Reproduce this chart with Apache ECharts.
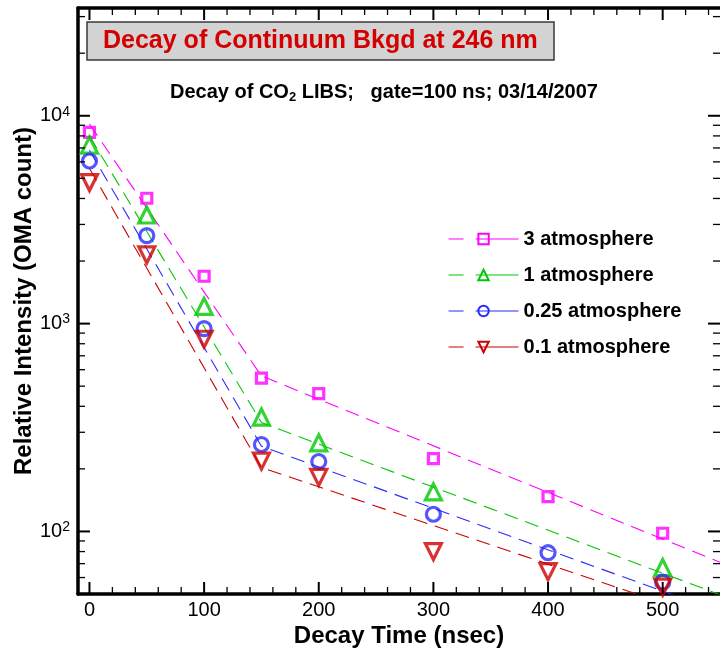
<!DOCTYPE html>
<html>
<head>
<meta charset="utf-8">
<script src="https://cdn.jsdelivr.net/npm/echarts@6/dist/echarts.min.js"></script>
<style>
  html, body { margin: 0; padding: 0; background: #fff; }
  #chart { width: 720px; height: 653px; }
</style>
</head>
<body>
<div id="chart"></div>
<script>
// Measured continuum intensity (OMA counts) versus decay time (ns)
const delayTimes = [0, 50, 100, 150, 200, 300, 400, 500];
const atm3   = [8320, 4010, 1690, 546, 460, 224, 147, 98];
const atm1   = [7230, 3330, 1210, 355, 267, 155, null, 67];
const atm025 = [6060, 2650, 946, 262, 217, 121, 79, 57];
const atm01  = [4770, 2140, 841, 218, 182, 80, 64, 54];

// Two-slope exponential fits (fast decay up to 150 ns, slow decay after)
const fitTimes = [0, 150, 550];
const fit3   = [9120, 560, 71];
const fit1   = [8000, 334, 49.6];
const fit025 = [6830, 257, 41];
const fit01  = [5580, 203, 36.6];

const seriesNames = ['3 atmosphere', '1 atmosphere', '0.25 atmosphere', '0.1 atmosphere'];
const seriesColors = ['#ff00ff', '#00c800', '#2b2bff', '#cc0000'];

// Axis ticks
const xMin = -10, xMax = 550;
const yMin = 50, yMax = 33000;
const xMajorTicks = [0, 100, 200, 300, 400, 500];
const xMinorTicks = [20, 40, 60, 80, 120, 140, 160, 180, 220, 240, 260, 280,
                     320, 340, 360, 380, 420, 440, 460, 480, 520, 540];
const yMajorTicks = [100, 1000, 10000];
const yMinorTicks = [60, 70, 80, 90, 200, 300, 400, 500, 600, 700, 800, 900,
                     2000, 3000, 4000, 5000, 6000, 7000, 8000, 9000, 20000, 30000];

const FONT = "'Liberation Sans', Arial, Helvetica, sans-serif";

const pointSets = [atm3, atm1, atm025, atm01];
const fitSets = [fit3, fit1, fit025, fit01];
const symbols = ['rect', 'triangle', 'circle', 'triangle'];
const symbolSizes = [10, 16, 14, 16];
const symbolRotates = [0, 0, 0, 180];

function pairs(xs, ys) {
  const out = [];
  xs.forEach((x, i) => { if (ys[i] != null) out.push([x, ys[i]]); });
  return out;
}

const series = [];

// Dashed fit lines (these carry the legend entries)
fitSets.forEach((vals, i) => {
  series.push({
    name: seriesNames[i],
    type: 'line',
    data: pairs(fitTimes, vals),
    symbol: symbols[i],
    symbolSize: symbolSizes[i],
    symbolRotate: symbolRotates[i],
    showSymbol: false,
    silent: true,
    clip: true,
    z: 2,
    lineStyle: { color: seriesColors[i], width: 1.1, type: [14, 8] },
    itemStyle: { color: 'rgba(0,0,0,0)', borderColor: seriesColors[i], borderWidth: 2.5 }
  });
});

// Measured points
pointSets.forEach((vals, i) => {
  series.push({
    name: seriesNames[i] + ' data',
    type: 'scatter',
    data: pairs(delayTimes, vals),
    symbol: symbols[i],
    symbolSize: symbolSizes[i],
    symbolRotate: symbolRotates[i],
    silent: true,
    z: 3,
    itemStyle: { color: 'rgba(0,0,0,0)', borderColor: seriesColors[i], borderWidth: 3.2 }
  });
});

// Inward ticks on all four sides of the frame
const xTickData = xMajorTicks.concat(xMinorTicks).map(v => [v, yMin]);
const yTickData = yMajorTicks.concat(yMinorTicks).map(v => [xMin, v]);

series.push({
  type: 'custom',
  name: 'x ticks',
  silent: true,
  z: 5,
  data: xTickData,
  renderItem: function (params, api) {
    const v = api.value(0);
    const major = xMajorTicks.indexOf(v) >= 0;
    const len = major ? 12 : 7;
    const pb = api.coord([v, yMin]);
    const pt = api.coord([v, yMax]);
    const st = { stroke: '#000', lineWidth: major ? 2 : 1.3 };
    return {
      type: 'group',
      children: [
        { type: 'line', shape: { x1: pb[0], y1: pb[1], x2: pb[0], y2: pb[1] - len }, style: st },
        { type: 'line', shape: { x1: pt[0], y1: pt[1], x2: pt[0], y2: pt[1] + len }, style: st }
      ]
    };
  }
});

series.push({
  type: 'custom',
  name: 'y ticks',
  silent: true,
  z: 5,
  data: yTickData,
  renderItem: function (params, api) {
    const v = api.value(1);
    const major = yMajorTicks.indexOf(v) >= 0;
    const len = major ? 12 : 7;
    const pl = api.coord([xMin, v]);
    const pr = api.coord([xMax, v]);
    const st = { stroke: '#000', lineWidth: major ? 2 : 1.3 };
    return {
      type: 'group',
      children: [
        { type: 'line', shape: { x1: pl[0], y1: pl[1], x2: pl[0] + len, y2: pl[1] }, style: st },
        { type: 'line', shape: { x1: pr[0], y1: pr[1], x2: pr[0] - len, y2: pr[1] }, style: st }
      ]
    };
  }
});

const chart = echarts.init(document.getElementById('chart'), null, { renderer: 'canvas' });

chart.setOption({
  backgroundColor: '#fff',
  animation: false,
  textStyle: { fontFamily: FONT },
  title: [
    {
      text: 'Decay of Continuum Bkgd at 246 nm',
      left: 87, top: 22,
      padding: [6, 16, 6, 16],
      backgroundColor: '#d3d3d3',
      borderColor: '#3a3a3a',
      borderWidth: 1.5,
      textStyle: { color: '#d40000', fontSize: 25, fontWeight: 'bold', fontFamily: FONT, lineHeight: 26 }
    },
    {
      text: '{a|Decay of CO}{s|2}{a| LIBS;   gate=100 ns; 03/14/2007}',
      left: 170, top: 80,
      padding: 0,
      textStyle: {
        rich: {
          a: { fontSize: 20, fontWeight: 'bold', color: '#000', fontFamily: FONT, lineHeight: 24 },
          s: { fontSize: 13, fontWeight: 'bold', color: '#000', fontFamily: FONT, lineHeight: 13, verticalAlign: 'bottom' }
        }
      }
    }
  ],
  legend: {
    data: seriesNames,
    orient: 'vertical',
    left: 448, top: 229,
    padding: 0,
    itemWidth: 70, itemHeight: 13, itemGap: 16,
    selectedMode: false,
    lineStyle: { type: [15, 12, 45, 0], width: 1.1 },
    textStyle: { fontSize: 20, fontWeight: 'bold', color: '#000', fontFamily: FONT, lineHeight: 20 }
  },
  grid: { left: 78, right: 0, top: 8, bottom: 59, containLabel: false },
  xAxis: [
    {
      type: 'value', position: 'bottom', min: xMin, max: xMax,
      name: 'Decay Time (nsec)', nameLocation: 'middle', nameGap: 30,
      nameMoveOverlap: false,
      nameTextStyle: { fontSize: 24, fontWeight: 'bold', color: '#000', fontFamily: FONT },
      axisLine: { show: true, onZero: false, lineStyle: { color: '#000', width: 3.5 } },
      axisTick: { show: false },
      splitLine: { show: false },
      axisLabel: { customValues: xMajorTicks, fontSize: 20, color: '#000', fontFamily: FONT, margin: 6 }
    },
    {
      type: 'value', position: 'top', min: xMin, max: xMax,
      axisLine: { show: true, onZero: false, lineStyle: { color: '#000', width: 3.5 } },
      axisTick: { show: false }, axisLabel: { show: false }, splitLine: { show: false }
    }
  ],
  yAxis: [
    {
      type: 'log', logBase: 10, position: 'left', min: yMin, max: yMax,
      name: 'Relative Intensity (OMA count)', nameLocation: 'middle', nameGap: 42,
      nameMoveOverlap: false,
      nameTextStyle: { fontSize: 24, fontWeight: 'bold', color: '#000', fontFamily: FONT },
      axisLine: { show: true, onZero: false, lineStyle: { color: '#000', width: 3.5 } },
      axisTick: { show: false },
      splitLine: { show: false },
      minorTick: { show: false },
      axisLabel: {
        showMinLabel: false, showMaxLabel: false, margin: 8,
        formatter: function (v) {
          const e = Math.round(Math.log10(v));
          return '{b|10}{s|' + e + '}';
        },
        rich: {
          b: { fontSize: 20, color: '#000', fontFamily: FONT, lineHeight: 22 },
          s: { fontSize: 14, color: '#000', fontFamily: FONT, lineHeight: 14, verticalAlign: 'top' }
        }
      }
    }
  ],
  series: series
});
</script>
</body>
</html>
